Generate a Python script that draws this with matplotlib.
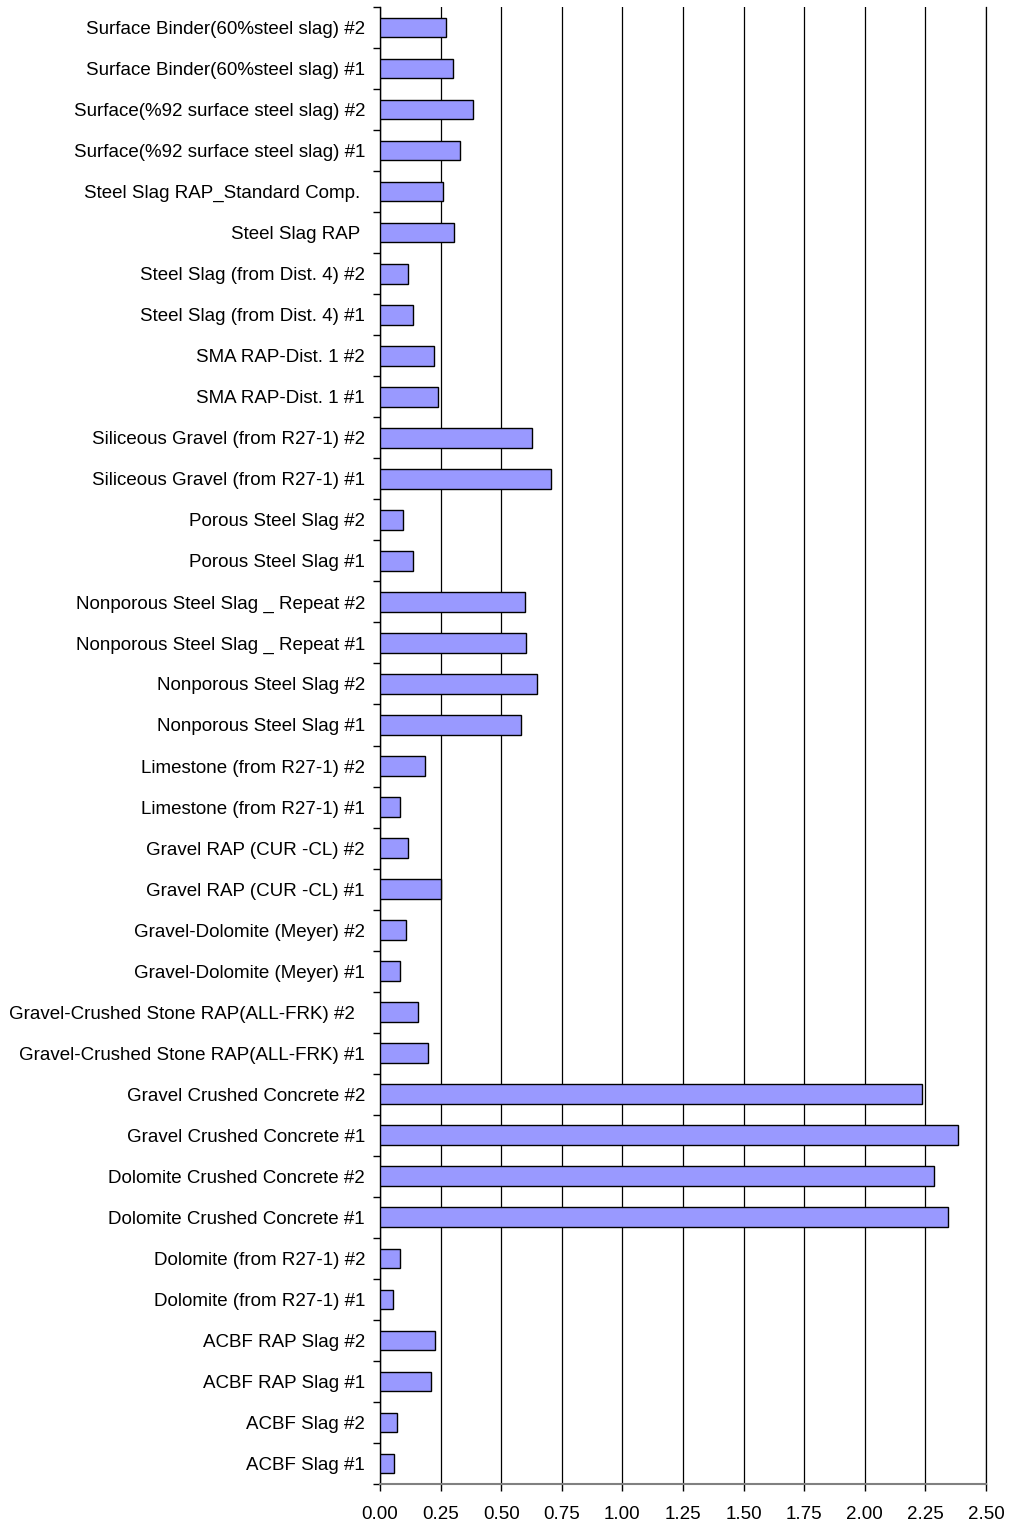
import matplotlib
matplotlib.use("Agg")
import matplotlib.pyplot as plt
import numpy as np

plt.rcParams['font.family'] = ['Liberation Sans', 'DejaVu Sans']

# samples, bottom to top
samples = [
    "ACBF Slag #1", "ACBF Slag #2",
    "ACBF RAP Slag #1", "ACBF RAP Slag #2",
    "Dolomite (from R27-1) #1", "Dolomite (from R27-1) #2",
    "Dolomite Crushed Concrete #1", "Dolomite Crushed Concrete #2",
    "Gravel Crushed Concrete #1", "Gravel Crushed Concrete #2",
    "Gravel-Crushed Stone RAP(ALL-FRK) #1", "Gravel-Crushed Stone RAP(ALL-FRK) #2  ",
    "Gravel-Dolomite (Meyer) #1", "Gravel-Dolomite (Meyer) #2",
    "Gravel RAP (CUR -CL) #1", "Gravel RAP (CUR -CL) #2",
    "Limestone (from R27-1) #1", "Limestone (from R27-1) #2",
    "Nonporous Steel Slag #1", "Nonporous Steel Slag #2",
    "Nonporous Steel Slag _ Repeat #1", "Nonporous Steel Slag _ Repeat #2",
    "Porous Steel Slag #1", "Porous Steel Slag #2",
    "Siliceous Gravel (from R27-1) #1", "Siliceous Gravel (from R27-1) #2",
    "SMA RAP-Dist. 1 #1", "SMA RAP-Dist. 1 #2",
    "Steel Slag (from Dist. 4) #1", "Steel Slag (from Dist. 4) #2",
    "Steel Slag RAP ", "Steel Slag RAP_Standard Comp. ",
    "Surface(%92 surface steel slag) #1", "Surface(%92 surface steel slag) #2",
    "Surface Binder(60%steel slag) #1", "Surface Binder(60%steel slag) #2",
]

values = [
    0.059, 0.071,
    0.209, 0.227,
    0.052, 0.084,
    2.345, 2.284,
    2.386, 2.236,
    0.198, 0.155,
    0.084, 0.106,
    0.250, 0.114,
    0.084, 0.184,
    0.581, 0.646,
    0.604, 0.599,
    0.137, 0.095,
    0.707, 0.629,
    0.239, 0.221,
    0.137, 0.114,
    0.305, 0.258,
    0.328, 0.383,
    0.300, 0.271,
]

x_ticks = [0.0, 0.25, 0.5, 0.75, 1.0, 1.25, 1.5, 1.75, 2.0, 2.25, 2.5]

fig = plt.figure(figsize=(10.09, 15.24), dpi=100)
ax = fig.add_axes([380 / 1009, 1 - 1484 / 1524, 606 / 1009, 1477 / 1524])

y = np.arange(len(samples))
ax.barh(y, values, height=0.48, color='#9999FF', edgecolor='black', linewidth=1, zorder=3)

ax.set_xlim(0, 2.5)
ax.set_ylim(-0.5, len(samples) - 0.5)

ax.set_xticks(x_ticks)
ax.set_xticklabels([f"{v:.2f}" for v in x_ticks], fontsize=13.5)
ax.xaxis.grid(True, color='black', linewidth=0.9, zorder=0)

ax.set_yticks(y)
ax.set_yticklabels(samples, fontsize=13.5)
ax.set_yticks(np.arange(len(samples) + 1) - 0.5, minor=True)
ax.tick_params(axis='y', which='major', length=0, pad=10.8)
ax.tick_params(axis='y', which='minor', length=5, width=1, color='black')
ax.tick_params(axis='x', which='major', length=5, width=1, pad=10.5)

ax.spines['top'].set_visible(False)
ax.spines['right'].set_color('black')
ax.spines['right'].set_linewidth(0.9)
ax.spines['left'].set_color('black')
ax.spines['left'].set_linewidth(1)
ax.spines['bottom'].set_color('#808080')
ax.spines['bottom'].set_linewidth(1.5)

fig.savefig('out.png', dpi=100)
